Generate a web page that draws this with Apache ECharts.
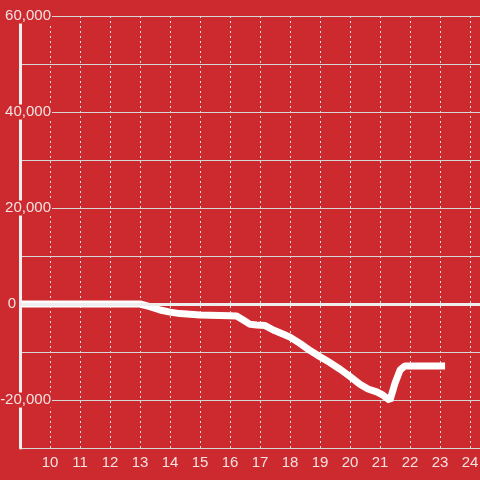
<!DOCTYPE html>
<html>
<head>
<meta charset="utf-8">
<script src="https://cdn.jsdelivr.net/npm/echarts@6/dist/echarts.min.js"></script>
<style>
html,body{margin:0;padding:0;background:#cc2a2f;}
#c{width:480px;height:480px;}
</style>
</head>
<body>
<div id="c"></div>
<script>
// Hours of the day (x) and cumulative values (y)
var hours = [9, 13, 13.33, 13.67, 14, 14.33, 15, 16, 16.22, 16.44, 16.67, 16.89, 17.17, 17.44, 17.78, 18, 18.33, 18.67, 19, 19.33, 19.67, 20, 20.33, 20.6, 20.89, 21.1, 21.33, 21.5, 21.67, 21.83, 23.17];
var values = [0, 0, -550, -1250, -1700, -2000, -2290, -2430, -2500, -3330, -4240, -4375, -4500, -5420, -6300, -6900, -8200, -9700, -11000, -12200, -13600, -15100, -16700, -17700, -18300, -19000, -20100, -16500, -13750, -12900, -12900];
var yLabelValues = [-20000, 20000, 40000, 60000];
var yZeroLabel = [0];

var bg = '#cc2a2f';
var txt = '#f3e2e2';
var font = '"Liberation Sans", Arial, sans-serif';

var pts = hours.map(function (h, i) { return [h, values[i]]; });

var chart = echarts.init(document.getElementById('c'), null, {renderer: 'canvas'});
var yBase = {type: 'value', min: -30000, max: 60000, interval: 10000, position: 'left'};
chart.setOption({
  backgroundColor: bg,
  animation: false,
  grid: {left: 20, right: 0, top: 16, bottom: 32, containLabel: false, outerBoundsMode: 'none'},
  xAxis: {
    type: 'value', min: 9, max: 24.333, interval: 1, z: 0,
    axisLine: {show: true, lineStyle: {color: '#d9d9d9', width: 1}},
    axisTick: {show: false},
    axisLabel: {show: true, color: txt, fontSize: 15, fontFamily: font, margin: 7,
      showMinLabel: false, showMaxLabel: false},
    splitLine: {show: true, lineStyle: {color: '#e0e0e0', width: 1, type: [2, 3]}}
  },
  yAxis: [
    Object.assign({}, yBase, {
      z: 0,
      axisLine: {show: false}, axisTick: {show: false}, axisLabel: {show: false},
      splitLine: {show: true, lineStyle: {color: '#d6d6d6', width: 1}}
    }),
    Object.assign({}, yBase, {
      z: 5,
      axisLine: {show: true, onZero: false, lineStyle: {color: '#eeeeee', width: 3}},
      axisTick: {show: false},
      splitLine: {show: false},
      axisLabel: {
        show: true, customValues: yLabelValues, color: txt, fontSize: 15, fontFamily: font,
        align: 'right', margin: -32, backgroundColor: bg, padding: [0, 1, 0, 1],
        formatter: function (v) { return echarts.format.addCommas(v); }
      }
    }),
    Object.assign({}, yBase, {
      z: 5,
      axisLine: {show: false}, axisTick: {show: false}, splitLine: {show: false},
      axisLabel: {
        show: true, customValues: yZeroLabel, color: txt, fontSize: 15, fontFamily: font,
        align: 'right', margin: 4
      }
    })
  ],
  series: [
    {
      type: 'line', data: [], z: 1, yAxisIndex: 0, silent: true,
      markLine: {
        silent: true, symbol: 'none', label: {show: false},
        lineStyle: {color: '#eeeeee', width: 3, type: 'solid'},
        data: [{yAxis: 0}]
      }
    },
    {
      type: 'line', data: pts, z: 3, yAxisIndex: 0, showSymbol: false, symbol: 'none',
      lineStyle: {color: '#ffffff', width: 7},
      silent: true
    }
  ]
});
</script>
</body>
</html>
